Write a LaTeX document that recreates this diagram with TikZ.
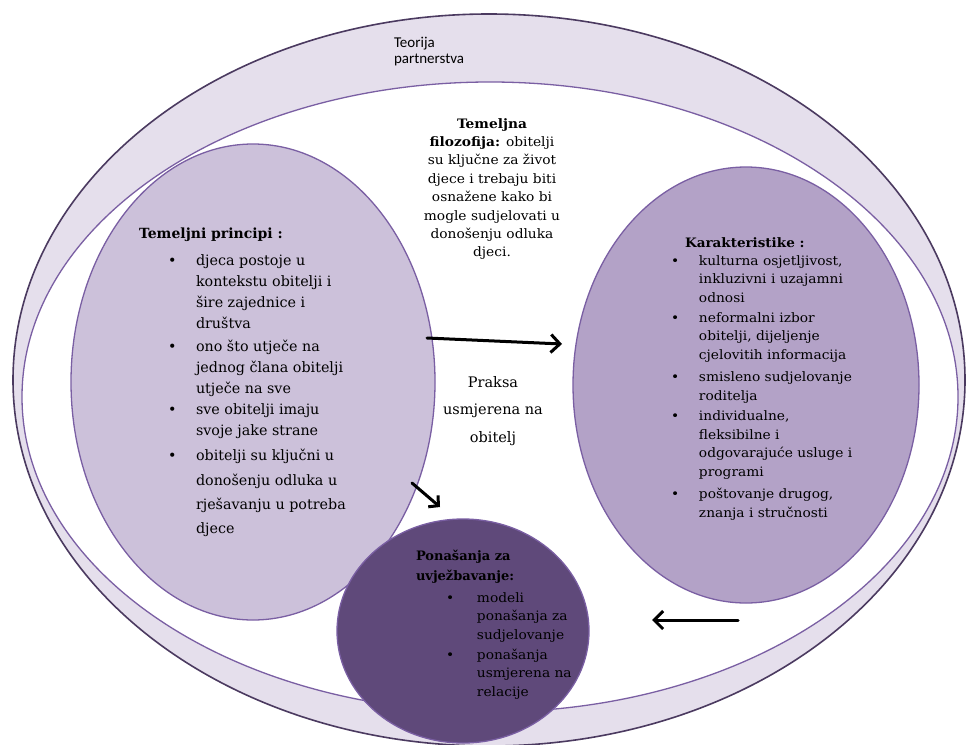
\documentclass[tikz,border=0pt]{standalone}
\usepackage{graphicx}
\usepackage{fontspec}
\setmainfont{DejaVu Serif}
\newfontfamily\sfont{Carlito}
\newcommand\hstretch[2]{\scalebox{#1}[1]{#2}}
\usetikzlibrary{shapes.geometric,arrows.meta}
\definecolor{ringfill}{HTML}{E5DFEC}
\definecolor{outerline}{HTML}{4B3A60}
\definecolor{ringline}{HTML}{7A5FA3}
\definecolor{leftfill}{HTML}{CCC1DA}
\definecolor{rightfill}{HTML}{B3A2C7}
\definecolor{botfill}{HTML}{5F497A}
\begin{document}
\begin{tikzpicture}[x=1pt,y=-1pt,
  blob/.style={ellipse, inner sep=0pt, outer sep=0pt, draw=ringline, line width=1.3pt},
  txt/.style={inner sep=0pt, outer sep=0pt, text=black},
  arr/.style={line width=3pt, line cap=round, -{Straight Barb[length=9pt,width=18pt]}}]
\useasboundingbox (0,0) rectangle (973,744);
% ellipses
\node[blob, draw=outerline, line width=1.6pt, fill=ringfill, minimum width=952pt, minimum height=732pt] (outer) at (489,380) {};
\node[blob, fill=white, minimum width=936pt, minimum height=630pt] (inner) at (490,397) {};
\node[blob, fill=leftfill, minimum width=364pt, minimum height=476pt] (lefte) at (253,382) {};
\node[blob, fill=rightfill, minimum width=346pt, minimum height=436pt] (righte) at (746,385) {};
\node[blob, fill=botfill, minimum width=252pt, minimum height=224pt] (bote) at (463,631) {};
% texts
\node[txt, anchor=base west, font=\sfont\fontsize{15}{16}\selectfont] (teorija) at (394,47)
  {\begin{tabular}[t]{@{}l@{}}Teorija\\partnerstva\end{tabular}};
\node[txt, anchor=base, font=\fontsize{13}{18.4}\selectfont] (filoz) at (492,128)
  {\hstretch{1.06}{\begin{tabular}[t]{@{}c@{}}\textbf{Temeljna}\\\textbf{filozofija:} obitelji\\su ključne za život\\djece i trebaju biti\\osnažene kako bi\\mogle sudjelovati u\\donošenju odluka\\djeci.\end{tabular}}};
\node[txt, anchor=base, font=\fontsize{14.5}{27.5}\selectfont] (praksa) at (493,387)
  {\begin{tabular}[t]{@{}c@{}}Praksa\\usmjerena na\\obitelj\end{tabular}};
% left block
\node[txt, anchor=base west, font=\fontsize{14}{21}\selectfont] (ltitle) at (139,238)
  {\textbf{Temeljni principi :}};
\node[txt, anchor=base west, font=\fontsize{14.3}{21}\selectfont] (llist) at (168,265)
  {\begin{tabular}[t]{@{}p{28pt}@{}l@{}}
  \textbullet & djeca postoje u\\
  & kontekstu obitelji i\\
  & šire zajednice i\\
  & društva\\[2pt]
  \textbullet & ono što utječe na\\
  & jednog člana obitelji\\
  & utječe na sve\\
  \textbullet & sve obitelji imaju\\
  & svoje jake strane\\[4pt]
  \textbullet & obitelji su ključni u\\[4pt]
  & donošenju odluka u\\[3pt]
  & rješavanju u potreba\\[3pt]
  & djece
  \end{tabular}};
% right block
\node[txt, anchor=base west, font=\fontsize{13}{18.5}\selectfont] (rtitle) at (685,247)
  {\hstretch{1.04}{\textbf{Karakteristike :}}};
\node[txt, anchor=base west, font=\fontsize{13}{18.5}\selectfont] (rlist) at (671,265)
  {\hstretch{1.06}{\begin{tabular}[t]{@{}p{26.4pt}@{}l@{}}
  \textbullet & kulturna osjetljivost,\\
  & inkluzivni i uzajamni\\
  & odnosi\\[1.5pt]
  \textbullet & neformalni izbor\\
  & obitelji, dijeljenje\\
  & cjelovitih informacija\\[4pt]
  \textbullet & smisleno sudjelovanje\\
  & roditelja\\[2pt]
  \textbullet & individualne,\\
  & fleksibilne i\\
  & odgovarajuće usluge i\\
  & programi\\[4pt]
  \textbullet & poštovanje drugog,\\
  & znanja i stručnosti
  \end{tabular}}};
% bottom block
\node[txt, anchor=base west, font=\fontsize{13}{20}\selectfont] (btitle) at (416,560)
  {\begin{tabular}[t]{@{}l@{}}\textbf{Ponašanja za}\\\textbf{uvježbavanje:}\end{tabular}};
\node[txt, anchor=base west, font=\fontsize{13}{18.5}\selectfont] (blist) at (446,602)
  {\hstretch{1.06}{\begin{tabular}[t]{@{}p{29.2pt}@{}l@{}}
  \textbullet & modeli\\
  & ponašanja za\\
  & sudjelovanje\\[1.5pt]
  \textbullet & ponašanja\\
  & usmjerena na\\
  & relacije
  \end{tabular}}};
% arrows
\coordinate (a1s) at (427,338);
\coordinate (a1e) at (562,344);
\coordinate (a2s) at (412,483);
\coordinate (a2e) at (440,507);
\coordinate (a3s) at (738,620);
\coordinate (a3e) at (652,620);
\draw[arr] (a1s) -- (a1e);
\draw[arr, -{Straight Barb[length=7pt,width=15pt]}] (a2s) -- (a2e);
\draw[arr] (a3s) -- (a3e);
\end{tikzpicture}
\end{document}
